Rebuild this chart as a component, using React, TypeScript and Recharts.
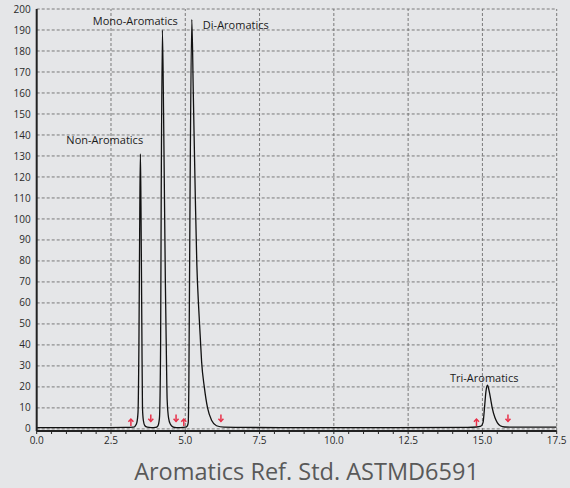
import React from "react";
import {
  ComposedChart,
  Line,
  XAxis,
  YAxis,
  CartesianGrid,
  ReferenceLine,
  ReferenceDot,
} from "recharts";

// [minutes, signal]
const baselineStart = [[0, 0.6], [1.5, 0.6], [3.0, 0.7]];
const nonAromatics = [
  [3.25, 0.8], [3.32, 1.5], [3.37, 3], [3.41, 8], [3.44, 40], [3.47, 105], [3.49, 131],
  [3.51, 105], [3.54, 45], [3.56, 10], [3.59, 4], [3.64, 1.5], [3.72, 0.8],
];
const gapOne = [[3.85, 0.6], [4.0, 0.7]];
const monoAromatics = [
  [4.08, 1.5], [4.13, 5], [4.17, 40], [4.19, 110], [4.23, 190], [4.27, 150], [4.30, 110],
  [4.33, 70], [4.36, 40], [4.39, 14], [4.44, 5], [4.5, 2.2], [4.58, 1], [4.7, 0.6],
];
const gapTwo = [[4.85, 0.6], [5.0, 0.8]];
const diAromatics = [
  [5.07, 1.5], [5.10, 3], [5.12, 20], [5.16, 110], [5.22, 195], [5.27, 160], [5.34, 109],
  [5.39, 78], [5.45, 58], [5.50, 45], [5.55, 32], [5.64, 20], [5.75, 10], [5.89, 4],
  [6.05, 1.5], [6.3, 0.8],
];
const baselineMid = [[7, 0.7], [9, 0.6], [12, 0.6], [14.5, 0.7]];
const triAromatics = [
  [14.8, 0.9], [14.95, 1.3], [15.02, 3], [15.07, 10], [15.12, 18], [15.17, 20.8],
  [15.22, 18.5], [15.28, 14], [15.33, 10], [15.42, 5.4], [15.5, 3], [15.6, 1.5],
  [15.75, 0.9], [16.0, 0.8],
];
const baselineEnd = [[17.5, 0.8]];

const peakLabels = [
  { text: "Non-Aromatics", t: 2.29, v: 137.8 },
  { text: "Mono-Aromatics", t: 3.32, v: 194.7 },
  { text: "Di-Aromatics", t: 6.7, v: 192.4 },
  { text: "Tri-Aromatics", t: 15.06, v: 24.5 },
];

const arrowsUp = [3.17, 4.95, 14.8];
const arrowsDown = [3.84, 4.69, 6.2, 15.86];

const yTicks = [0, 10, 20, 30, 40, 50, 60, 70, 80, 90, 100, 110, 120, 130, 140, 150, 160, 170, 180, 190, 200];
const xMajor = [0, 2.5, 5, 7.5, 10, 12.5, 15, 17.5];
const xMinor = [
  0, 0.5, 1, 1.5, 2, 2.5, 3, 3.5, 4, 4.5, 5, 5.5, 6, 6.5, 7, 7.5, 8, 8.5, 9, 9.5, 10,
  10.5, 11, 11.5, 12, 12.5, 13, 13.5, 14, 14.5, 15, 15.5, 16, 16.5, 17, 17.5,
];

const title = "Aromatics Ref. Std. ASTMD6591";

const data = [
  ...baselineStart, ...nonAromatics, ...gapOne, ...monoAromatics, ...gapTwo,
  ...diAromatics, ...baselineMid, ...triAromatics, ...baselineEnd,
].map(([t, v]) => ({ t, v }));

const RED = "#e8314a";

const XTick = (props: any) => {
  const { x, y, payload } = props;
  if (!xMajor.includes(payload.value)) return null;
  return (
    <text x={x} y={y} dy="0.71em" textAnchor="middle" fontSize={10} fill="#2a2a2a">
      {payload.value.toFixed(1)}
    </text>
  );
};

const arrow = (up: boolean) => (p: any) => {
  const { cx, cy } = p;
  const h = up ? -1 : 1;
  return (
    <g stroke={RED} strokeWidth={1.5} fill="none">
      <line x1={cx} y1={cy - 3.5 * h} x2={cx} y2={cy + 3.5 * h} />
      <polyline points={`${cx - 2.5},${cy + 0.8 * h} ${cx},${cy + 3.5 * h} ${cx + 2.5},${cy + 0.8 * h}`} />
    </g>
  );
};

export default function App() {
  return (
    <div
      style={{
        position: "absolute",
        left: 0,
        top: 0,
        width: 570,
        height: 488,
        background: "#e5e6e8",
        fontFamily: "'Open Sans', sans-serif",
      }}
    >
      <ComposedChart width={570} height={451} data={data} margin={{ top: 9, right: 13.3, left: 6.7, bottom: 0 }}>
        <CartesianGrid vertical={false} stroke="#7a7a7a" strokeDasharray="3 2" />
        {xMajor.slice(1).map((t) => (
          <ReferenceLine key={t} x={t} stroke="#7a7a7a" strokeDasharray="3 2" />
        ))}
        <XAxis
          dataKey="t"
          type="number"
          domain={[0, 17.5]}
          ticks={xMinor}
          interval={0}
          allowDataOverflow
          height={20}
          tickSize={3}
          tickMargin={3}
          tick={<XTick />}
          tickLine={{ stroke: "#222" }}
          axisLine={{ stroke: "#222", strokeWidth: 2 }}
        />
        <YAxis
          type="number"
          domain={[-1, 200]}
          ticks={yTicks}
          interval={0}
          allowDataOverflow
          width={30}
          tickLine={false}
          tickMargin={0}
          tick={{ fontSize: 10, fill: "#2a2a2a" }}
          axisLine={{ stroke: "#222", strokeWidth: 2 }}
        />
        <Line
          type="monotone"
          dataKey="v"
          stroke="#111"
          strokeWidth={1.3}
          dot={false}
          activeDot={false}
          isAnimationActive={false}
        />
        {arrowsUp.map((t) => (
          <ReferenceDot key={"u" + t} x={t} y={3} r={4} shape={arrow(true)} />
        ))}
        {arrowsDown.map((t) => (
          <ReferenceDot key={"d" + t} x={t} y={5.2} r={4} shape={arrow(false)} />
        ))}
        {peakLabels.map((l) => (
          <ReferenceDot
            key={l.text}
            x={l.t}
            y={l.v}
            r={4}
            shape={(p: any) => (
              <text x={p.cx} y={p.cy} textAnchor="middle" dominantBaseline="central" fontSize={11} fill="#1a1a1a">
                {l.text}
              </text>
            )}
          />
        ))}
      </ComposedChart>
      <svg width={570} height={37} style={{ position: "absolute", left: 0, top: 451 }}>
        <text x={306.5} y={29} textAnchor="middle" fontSize={23.5} fill="#595959">
          {title}
        </text>
      </svg>
    </div>
  );
}
